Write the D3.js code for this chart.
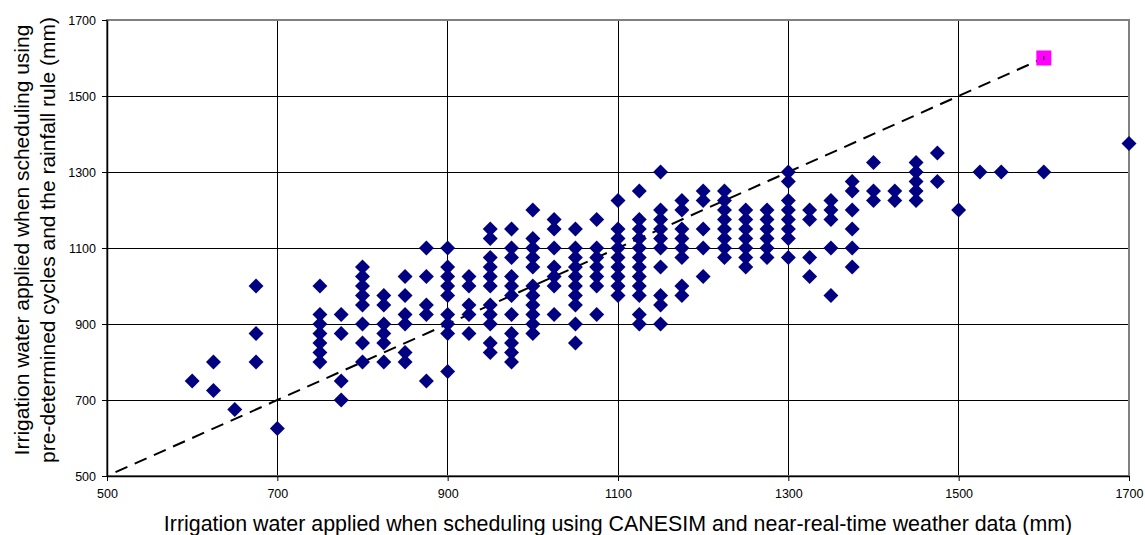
<!DOCTYPE html>
<html>
<head>
<meta charset="utf-8">
<script src="https://cdn.jsdelivr.net/npm/d3@7"></script>
<style>
  body { margin: 0; background: #fff; }
  svg { display: block; font-family: Arial, "Liberation Sans", sans-serif; }
</style>
</head>
<body>
<svg id="chart" width="1145" height="535"></svg>
<script>
// * x value of each column of diamonds (mm, CANESIM scheduling)
const columnX = [
  600, 625, 650, 675, 700, 750, 775, 800, 825, 850, 875, 900, 925, 950, 975,
  1000, 1025, 1050, 1075, 1100, 1125, 1150, 1175, 1200, 1225, 1250, 1275, 1300,
  1325, 1350, 1375, 1400, 1425, 1450, 1475, 1500, 1525, 1550, 1600, 1700,
];

// * y values found in each column (mm, pre-determined cycles)
const columnY = [
  [750],
  [800, 725],
  [675],
  [1000, 875, 800],
  [625],
  [1000, 925, 900, 875, 850, 825, 800],
  [925, 875, 750, 700],
  [1050, 1025, 1000, 975, 950, 900, 850, 800],
  [975, 950, 900, 875, 850, 800],
  [1025, 975, 925, 900, 825, 800],
  [1100, 1025, 950, 925, 750],
  [1100, 1050, 1025, 1000, 975, 925, 900, 875, 775],
  [1025, 1000, 950, 925, 875],
  [1150, 1125, 1075, 1050, 1025, 1000, 950, 925, 900, 850, 825],
  [1150, 1100, 1075, 1025, 1000, 975, 925, 875, 850, 825, 800],
  [1200, 1125, 1100, 1075, 1050, 1000, 975, 950, 925, 900, 875],
  [1175, 1150, 1100, 1050, 1025, 1000, 925],
  [1150, 1100, 1075, 1050, 1025, 1000, 975, 950, 900, 850],
  [1175, 1100, 1075, 1050, 1025, 1000, 925],
  [1225, 1150, 1125, 1100, 1075, 1050, 1025, 1000, 975],
  [1250, 1175, 1150, 1125, 1100, 1075, 1050, 1025, 1000, 975, 925, 900],
  [1300, 1200, 1175, 1150, 1125, 1100, 1050, 975, 950, 900],
  [1225, 1200, 1150, 1125, 1100, 1075, 1000, 975],
  [1250, 1225, 1150, 1100, 1025],
  [1250, 1225, 1200, 1175, 1150, 1125, 1100, 1075],
  [1200, 1175, 1150, 1125, 1100, 1075, 1050],
  [1200, 1175, 1150, 1125, 1100, 1075],
  [1300, 1275, 1225, 1200, 1175, 1150, 1125, 1075],
  [1200, 1175, 1075, 1025],
  [1225, 1200, 1175, 1100, 975],
  [1275, 1250, 1200, 1150, 1100, 1050],
  [1325, 1250, 1225],
  [1250, 1225],
  [1325, 1300, 1275, 1250, 1225],
  [1350, 1275],
  [1200],
  [1300],
  [1300],
  [1300],
  [1375],
];

// * the single highlighted point and the 1:1 reference line
const highlightX = [1600];
const highlightY = [1600];
const lineX = [510, 1600];
const lineY = [510, 1600];

const tickValues = [500, 700, 900, 1100, 1300, 1500, 1700];

const xTitle = "Irrigation water applied when scheduling using CANESIM and near-real-time weather data (mm)";
const yTitleLines = [
  "Irrigation water applied when scheduling using",
  "pre-determined cycles and the rainfall rule (mm)",
];

const width = 1145;
const height = 535;
const margin = { top: 20, right: 16, bottom: 59, left: 107 };

const svg = d3.select("#chart");

const xScale = d3.scaleLinear().domain([500, 1700]).range([margin.left, width - margin.right]);
const yScale = d3.scaleLinear().domain([500, 1700]).range([height - margin.bottom, margin.top]);

// * gridlines
const grid = svg.append("g").attr("shape-rendering", "crispEdges");
grid
  .selectAll("line.v")
  .data(tickValues.slice(1, -1))
  .enter()
  .append("line")
  .attr("x1", (d) => xScale(d))
  .attr("x2", (d) => xScale(d))
  .attr("y1", yScale(1700))
  .attr("y2", yScale(500))
  .style("stroke", "#000")
  .style("stroke-width", 1);
grid
  .selectAll("line.h")
  .data(tickValues.slice(1, -1))
  .enter()
  .append("line")
  .attr("x1", xScale(500))
  .attr("x2", xScale(1700))
  .attr("y1", (d) => yScale(d))
  .attr("y2", (d) => yScale(d))
  .style("stroke", "#000")
  .style("stroke-width", 1);

// * plot area border (top and right in grey)
svg
  .append("rect")
  .attr("x", xScale(500))
  .attr("y", yScale(1700))
  .attr("width", xScale(1700) - xScale(500))
  .attr("height", yScale(500) - yScale(1700))
  .attr("shape-rendering", "crispEdges")
  .style("fill", "none")
  .style("stroke", "#808080")
  .style("stroke-width", 1.5);

// * axes
const fmt = d3.format("d");
const xAxis = svg
  .append("g")
  .attr("transform", `translate(0,${yScale(500)})`)
  .call(d3.axisBottom(xScale).tickValues(tickValues).tickFormat(fmt).tickSize(5).tickSizeOuter(0).tickPadding(8));
const yAxis = svg
  .append("g")
  .attr("transform", `translate(${xScale(500)},0)`)
  .call(d3.axisLeft(yScale).tickValues(tickValues).tickFormat(fmt).tickSize(5).tickSizeOuter(0).tickPadding(6));

[xAxis, yAxis].forEach((axis) => {
  axis.select(".domain").style("stroke", "#000").style("stroke-width", 1.5);
  axis.selectAll(".tick line").style("stroke", "#000");
  axis.selectAll("text").style("font-size", "12.5px").style("fill", "#000").style("font-family", "Arial, 'Liberation Sans', sans-serif");
});

// * 1:1 dashed line
svg
  .append("path")
  .datum(lineX.map((x, i) => [x, lineY[i]]))
  .attr("d", d3.line().x((d) => xScale(d[0])).y((d) => yScale(d[1])))
  .style("fill", "none")
  .style("stroke", "#000")
  .style("stroke-width", 2)
  .style("stroke-dasharray", "13,8");

// * diamonds
const points = columnX.flatMap((x, i) => columnY[i].map((y) => ({ x, y })));
const diamond = d3.symbol().type(d3.symbolSquare).size(112);
svg
  .append("g")
  .selectAll("path")
  .data(points)
  .enter()
  .append("path")
  .attr("d", diamond)
  .attr("transform", (d) => `translate(${xScale(d.x)},${yScale(d.y)}) rotate(45)`)
  .style("fill", "#000080");

// * highlighted point
const highlight = svg.append("g");
highlight
  .selectAll("rect")
  .data(highlightX.map((x, i) => ({ x, y: highlightY[i] })))
  .enter()
  .append("rect")
  .attr("x", (d) => xScale(d.x) - 7.5)
  .attr("y", (d) => yScale(d.y) - 7.5)
  .attr("width", 15)
  .attr("height", 15)
  .style("fill", "#ff00ff");
highlight
  .selectAll("line")
  .data(highlightX.map((x, i) => ({ x, y: highlightY[i] })))
  .enter()
  .append("line")
  .attr("x1", (d) => xScale(d.x))
  .attr("x2", (d) => xScale(d.x))
  .attr("y1", (d) => yScale(d.y) - 2)
  .attr("y2", (d) => yScale(d.y) + 2)
  .style("stroke", "#000")
  .style("stroke-width", 1);

// * axis titles
svg
  .append("text")
  .attr("x", 618)
  .attr("y", 531)
  .attr("text-anchor", "middle")
  .style("font-size", "21.4px")
  .text(xTitle);

svg
  .append("g")
  .attr("transform", `translate(0,240) rotate(-90)`)
  .selectAll("text")
  .data(yTitleLines)
  .enter()
  .append("text")
  .attr("x", 0)
  .attr("y", (d, i) => 29 + i * 26)
  .attr("text-anchor", "middle")
  .style("font-size", "21px")
  .text((d) => d);
</script>
</body>
</html>
